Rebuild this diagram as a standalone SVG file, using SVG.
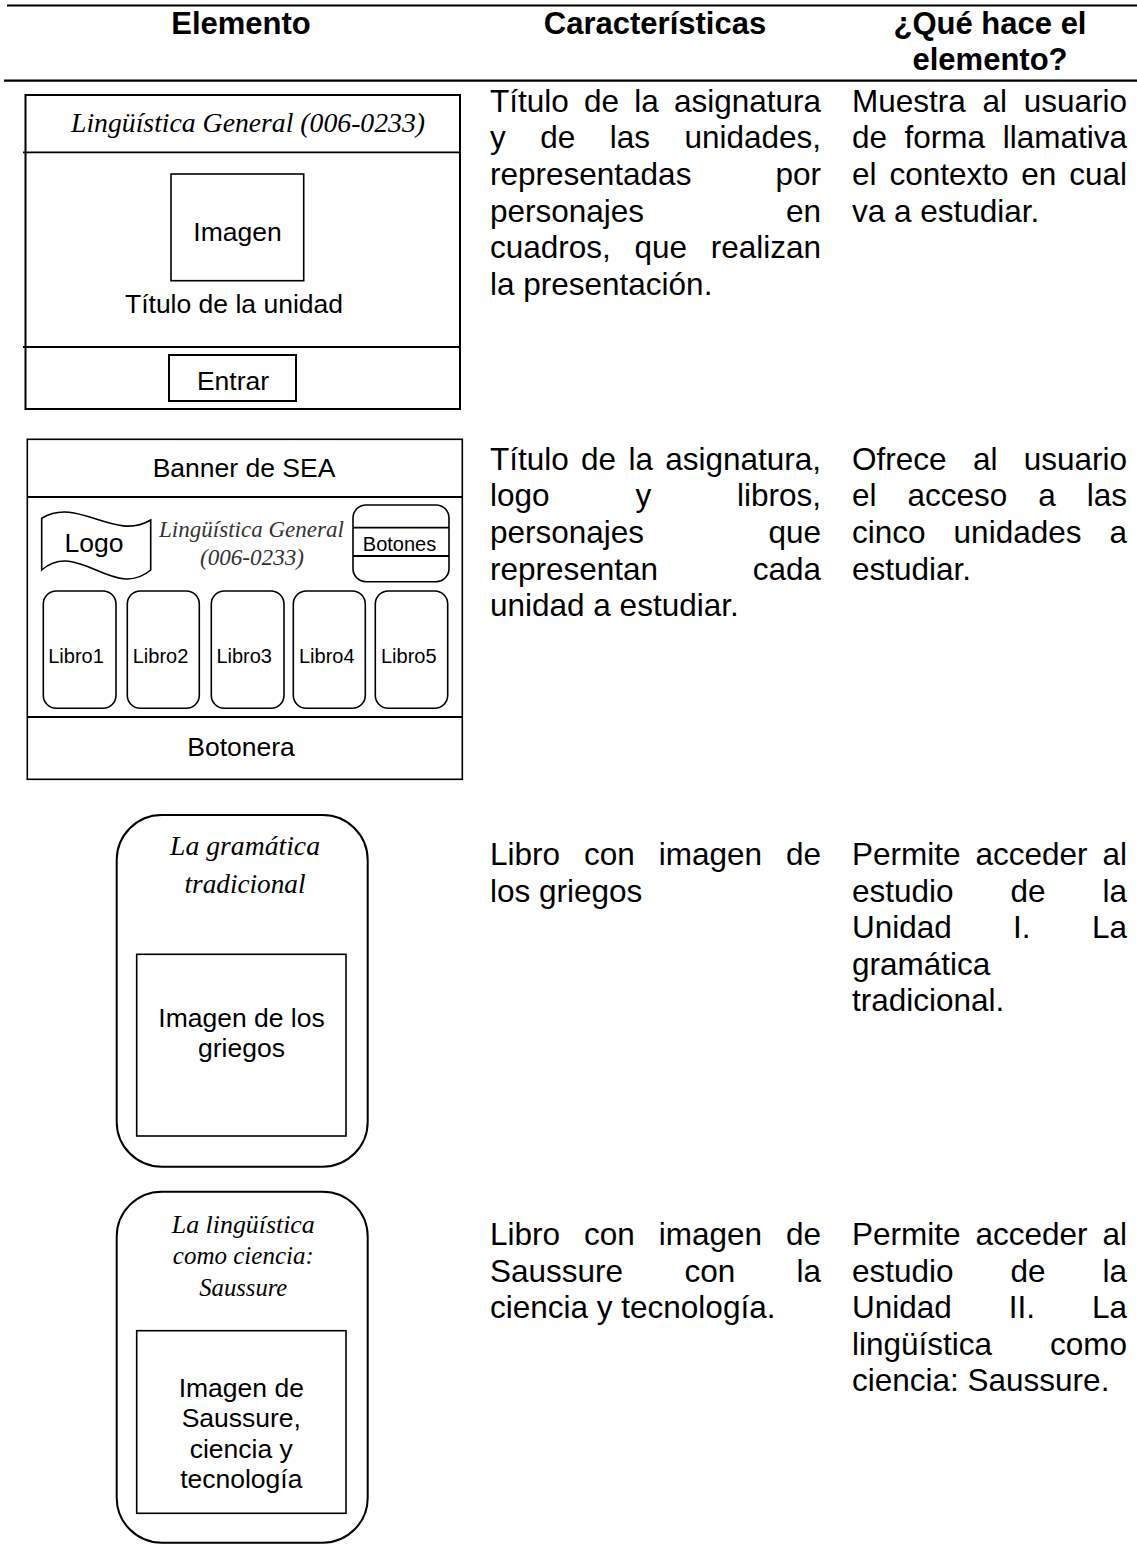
<svg xmlns="http://www.w3.org/2000/svg" width="1137" height="1553" viewBox="0 0 1137 1553">
  <style>
    text { font-family: "Liberation Sans", Arial, sans-serif; fill: #000; }
    .hd { font-size: 31px; font-weight: bold; text-anchor: middle; }
    .tx { font-size: 31.5px; }
    .m { font-size: 26.5px; text-anchor: middle; }
    .sm { font-size: 20px; text-anchor: middle; }
    .it { font-family: "Liberation Serif", "Times New Roman", serif; font-style: italic; text-anchor: middle; }
    .end { text-anchor: end; }
    .rule { stroke: #000; stroke-width: 2.2; fill: none; }
    .box { fill: #fff; stroke: #000; stroke-width: 2; }
    .thin { fill: #fff; stroke: #000; stroke-width: 1.6; }
    .ln { stroke: #000; stroke-width: 1.8; fill: none; }
  </style>

  <!-- table rules -->
  <g id="table-rules">
    <line class="rule" x1="7" y1="5.5" x2="1137" y2="5.5"/>
    <line class="rule" x1="4" y1="80.7" x2="1137" y2="80.7"/>
  </g>

  <!-- header -->
  <g id="header">
    <text class="hd" x="241" y="34">Elemento</text>
    <text class="hd" x="655" y="34">Características</text>
    <text class="hd" x="990" y="34">¿Qué hace el</text>
    <text class="hd" x="990" y="70">elemento?</text>
  </g>

  <!-- row 1: presentation screen -->
  <g id="mock-presentacion">
    <rect class="box" x="25.5" y="95" width="434.5" height="314"/>
    <line class="ln" x1="23" y1="152.3" x2="460" y2="152.3"/>
    <line class="ln" x1="23" y1="347" x2="460" y2="347"/>
    <text class="it" x="248" y="131.5" font-size="27" textLength="354" lengthAdjust="spacingAndGlyphs">Lingüística General (006-0233)</text>
    <rect class="thin" x="171" y="174" width="132.7" height="106.7"/>
    <text class="m" x="237.5" y="240.5">Imagen</text>
    <text class="m" x="234" y="313">Título de la unidad</text>
    <rect class="box" x="169" y="355" width="127" height="46"/>
    <text class="m" x="233" y="390">Entrar</text>
  </g>
  <g id="desc-presentacion">
    <text class="tx" x="490" y="111.7">Título</text>
    <text class="tx" x="584" y="111.7">de</text>
    <text class="tx" x="634.2" y="111.7">la</text>
    <text class="tx end" x="821" y="111.7">asignatura</text>
    <text class="tx" x="490" y="148.3">y</text>
    <text class="tx" x="540.2" y="148.3">de</text>
    <text class="tx" x="609.7" y="148.3">las</text>
    <text class="tx end" x="821" y="148.3">unidades,</text>
    <text class="tx" x="490" y="184.9">representadas</text>
    <text class="tx end" x="821" y="184.9">por</text>
    <text class="tx" x="490" y="221.5">personajes</text>
    <text class="tx end" x="821" y="221.5">en</text>
    <text class="tx" x="490" y="258.1">cuadros,</text>
    <text class="tx" x="634.5" y="258.1">que</text>
    <text class="tx end" x="821" y="258.1">realizan</text>
    <text class="tx" x="490" y="294.7">la presentación.</text>

    <text class="tx" x="852" y="111.7">Muestra</text>
    <text class="tx" x="982.5" y="111.7">al</text>
    <text class="tx end" x="1127" y="111.7">usuario</text>
    <text class="tx" x="852" y="148.3">de</text>
    <text class="tx" x="904.6" y="148.3">forma</text>
    <text class="tx end" x="1127" y="148.3">llamativa</text>
    <text class="tx" x="852" y="184.9">el</text>
    <text class="tx" x="889.4" y="184.9">contexto</text>
    <text class="tx" x="1021.3" y="184.9">en</text>
    <text class="tx end" x="1127" y="184.9">cual</text>
    <text class="tx" x="852" y="221.5">va a estudiar.</text>
  </g>

  <!-- row 2: home screen -->
  <g id="mock-inicio">
    <rect class="thin" x="27.3" y="439.3" width="435" height="340"/>
    <line class="ln" x1="27.3" y1="497" x2="462.3" y2="497"/>
    <line class="ln" x1="27.3" y1="717" x2="462.3" y2="717"/>
    <text class="m" x="244" y="477">Banner de SEA</text>
    <path class="thin" d="M41.7,518.3 C78,496 114,542 150.7,520 L150.7,570 C114,601 78,539 41.7,570 Z"/>
    <text class="m" x="94" y="551.7">Logo</text>
    <text class="it" x="251.5" y="536.7" font-size="23" fill="#333" style="fill:#333" textLength="185" lengthAdjust="spacingAndGlyphs">Lingüística General</text>
    <text class="it" x="252" y="565" font-size="23" style="fill:#333" textLength="104" lengthAdjust="spacingAndGlyphs">(006-0233)</text>
    <rect class="thin" x="353" y="505" width="96" height="76.7" rx="13"/>
    <line class="ln" x1="353" y1="527.7" x2="449" y2="527.7" stroke-width="1.4"/>
    <line class="ln" x1="353" y1="556" x2="449" y2="556" stroke-width="1.4"/>
    <text class="sm" x="399.5" y="550.7" font-size="20.5">Botones</text>
    <rect class="thin" x="43.3" y="591" width="72.7" height="117.3" rx="13"/>
    <rect class="thin" x="127.3" y="591" width="72" height="117.3" rx="13"/>
    <rect class="thin" x="211.3" y="591" width="72.7" height="117.3" rx="13"/>
    <rect class="thin" x="293.3" y="591" width="72" height="117.3" rx="13"/>
    <rect class="thin" x="375.3" y="591" width="72.4" height="117.3" rx="13"/>
    <text class="sm" x="76" y="662.7">Libro1</text>
    <text class="sm" x="160.5" y="662.7">Libro2</text>
    <text class="sm" x="244.2" y="662.7">Libro3</text>
    <text class="sm" x="326.8" y="662.7">Libro4</text>
    <text class="sm" x="408.8" y="662.7">Libro5</text>
    <text class="m" x="241" y="756">Botonera</text>
  </g>
  <g id="desc-inicio">
    <text class="tx" x="490" y="469.7">Título</text>
    <text class="tx" x="581.1" y="469.7">de</text>
    <text class="tx" x="628.4" y="469.7">la</text>
    <text class="tx end" x="821" y="469.7">asignatura,</text>
    <text class="tx" x="490" y="506.3">logo</text>
    <text class="tx" x="635.4" y="506.3">y</text>
    <text class="tx end" x="821" y="506.3">libros,</text>
    <text class="tx" x="490" y="542.9">personajes</text>
    <text class="tx end" x="821" y="542.9">que</text>
    <text class="tx" x="490" y="579.5">representan</text>
    <text class="tx end" x="821" y="579.5">cada</text>
    <text class="tx" x="490" y="616.1">unidad a estudiar.</text>

    <text class="tx" x="852" y="469.7">Ofrece</text>
    <text class="tx" x="972.9" y="469.7">al</text>
    <text class="tx end" x="1127" y="469.7">usuario</text>
    <text class="tx" x="852" y="506.3">el</text>
    <text class="tx" x="907.5" y="506.3">acceso</text>
    <text class="tx" x="1038.3" y="506.3">a</text>
    <text class="tx end" x="1127" y="506.3">las</text>
    <text class="tx" x="852" y="542.9">cinco</text>
    <text class="tx" x="953.6" y="542.9">unidades</text>
    <text class="tx end" x="1127" y="542.9">a</text>
    <text class="tx" x="852" y="579.5">estudiar.</text>
  </g>

  <!-- row 3: book for unit I -->
  <g id="mock-libro-1">
    <rect class="box" x="116.7" y="815" width="251" height="351.7" rx="45"/>
    <text class="it" x="245" y="855" font-size="27" textLength="150" lengthAdjust="spacingAndGlyphs">La gramática</text>
    <text class="it" x="245" y="893" font-size="27" textLength="121" lengthAdjust="spacingAndGlyphs">tradicional</text>
    <rect class="thin" x="136.7" y="954.3" width="209.3" height="181.7"/>
    <text class="m" x="241.5" y="1026.7">Imagen de los</text>
    <text class="m" x="241.5" y="1056.7">griegos</text>
  </g>
  <g id="desc-libro-1">
    <text class="tx" x="490" y="865">Libro</text>
    <text class="tx" x="584" y="865">con</text>
    <text class="tx" x="658.7" y="865">imagen</text>
    <text class="tx end" x="821" y="865">de</text>
    <text class="tx" x="490" y="901.6">los griegos</text>

    <text class="tx" x="852" y="865">Permite</text>
    <text class="tx" x="975.5" y="865">acceder</text>
    <text class="tx end" x="1127" y="865">al</text>
    <text class="tx" x="852" y="901.6">estudio</text>
    <text class="tx" x="1010.5" y="901.6">de</text>
    <text class="tx end" x="1127" y="901.6">la</text>
    <text class="tx" x="852" y="938.2">Unidad</text>
    <text class="tx" x="1013.1" y="938.2">I.</text>
    <text class="tx end" x="1127" y="938.2">La</text>
    <text class="tx" x="852" y="974.8">gramática</text>
    <text class="tx" x="852" y="1011.4">tradicional.</text>
  </g>

  <!-- row 4: book for unit II -->
  <g id="mock-libro-2">
    <rect class="box" x="116.7" y="1191.7" width="251" height="351" rx="45"/>
    <text class="it" x="243.3" y="1233" font-size="26" textLength="143" lengthAdjust="spacingAndGlyphs">La lingüística</text>
    <text class="it" x="243.3" y="1263.5" font-size="26" textLength="141" lengthAdjust="spacingAndGlyphs">como ciencia:</text>
    <text class="it" x="243.3" y="1296" font-size="26" textLength="88" lengthAdjust="spacingAndGlyphs">Saussure</text>
    <rect class="thin" x="136.7" y="1330.7" width="209.3" height="182.6"/>
    <text class="m" x="241.3" y="1396.7">Imagen de</text>
    <text class="m" x="241.3" y="1426.7">Saussure,</text>
    <text class="m" x="241.3" y="1458.3">ciencia y</text>
    <text class="m" x="241.3" y="1488.3">tecnología</text>
  </g>
  <g id="desc-libro-2">
    <text class="tx" x="490" y="1245">Libro</text>
    <text class="tx" x="584" y="1245">con</text>
    <text class="tx" x="658.7" y="1245">imagen</text>
    <text class="tx end" x="821" y="1245">de</text>
    <text class="tx" x="490" y="1281.6">Saussure</text>
    <text class="tx" x="684.4" y="1281.6">con</text>
    <text class="tx end" x="821" y="1281.6">la</text>
    <text class="tx" x="490" y="1318.2">ciencia y tecnología.</text>

    <text class="tx" x="852" y="1245">Permite</text>
    <text class="tx" x="975.5" y="1245">acceder</text>
    <text class="tx end" x="1127" y="1245">al</text>
    <text class="tx" x="852" y="1281.6">estudio</text>
    <text class="tx" x="1010.5" y="1281.6">de</text>
    <text class="tx end" x="1127" y="1281.6">la</text>
    <text class="tx" x="852" y="1318.2">Unidad</text>
    <text class="tx" x="1008.8" y="1318.2">II.</text>
    <text class="tx end" x="1127" y="1318.2">La</text>
    <text class="tx" x="852" y="1354.8">lingüística</text>
    <text class="tx end" x="1127" y="1354.8">como</text>
    <text class="tx" x="852" y="1391.4">ciencia: Saussure.</text>
  </g>

  <!-- no connectors in this table layout -->
  <g id="connectors"/>
</svg>
